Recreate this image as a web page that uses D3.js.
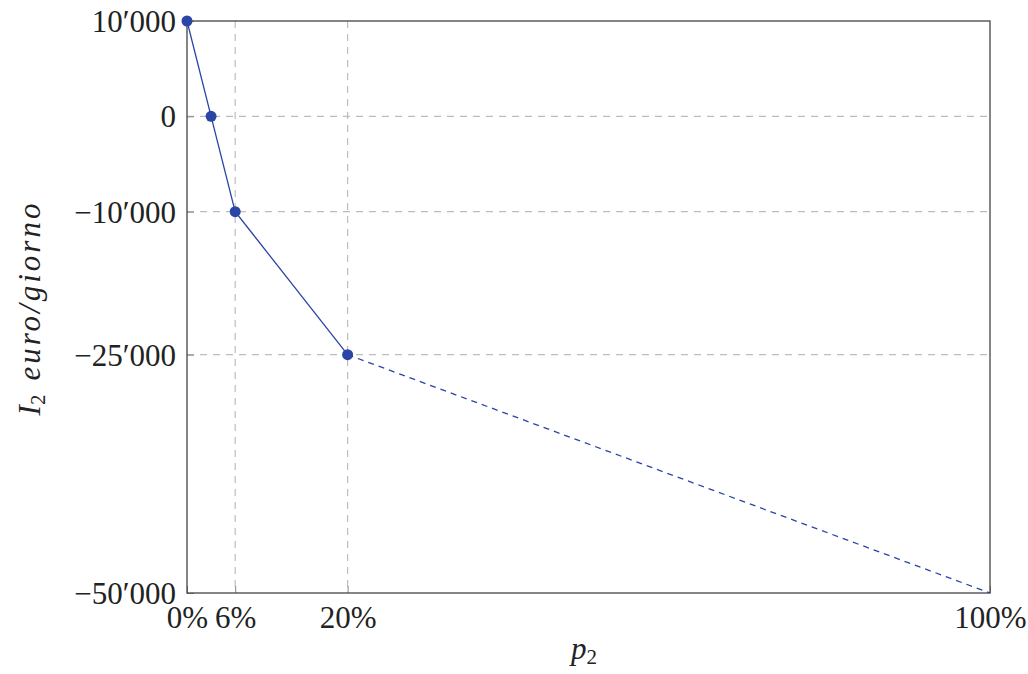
<!DOCTYPE html>
<html><head><meta charset="utf-8">
<script src="https://cdn.jsdelivr.net/npm/d3@7"></script>
<style>body{margin:0;background:#fff}svg{display:block}text{font-family:"Liberation Serif","DejaVu Serif",serif;fill:#222}</style>
</head><body><svg id="c" width="1028" height="674"></svg>
<script>
const xSolid = [0, 3, 6, 20];
const ySolid = [10000, 0, -10000, -25000];
const xDash = [20, 100];
const yDash = [-25000, -50000];
const xTicks = [0, 6, 20, 100];
const xTickLabels = ["0%", "6%", "20%", "100%"];
const yTicks = [10000, 0, -10000, -25000, -50000];
const yTickLabels = ["10\u2032000", "0", "\u221210\u2032000", "\u221225\u2032000", "\u221250\u2032000"];

const svg = d3.select("#c");
const L = 187, R = 990, T = 21, B = 593;
const x = d3.scaleLinear().domain([0, 100]).range([L, R]);
const y = d3.scaleLinear().domain([-50000, 10000]).range([B, T]);
const blue = "#2b45a6";

// grid
svg.append("g").selectAll("line").data(xTicks.filter(d => d > 0 && d < 100)).join("line")
  .attr("x1", d => x(d)).attr("x2", d => x(d)).attr("y1", T).attr("y2", B)
  .attr("stroke", "#bdbdbd").attr("stroke-width", 1.2).attr("stroke-dasharray", "7,6");
svg.append("g").selectAll("line").data(yTicks.filter(d => d > -50000 && d < 10000)).join("line")
  .attr("y1", d => y(d)).attr("y2", d => y(d)).attr("x1", L).attr("x2", R)
  .attr("stroke", "#bdbdbd").attr("stroke-width", 1.2).attr("stroke-dasharray", "7,6");

// axes (ticks inward)
const yAxis = d3.axisLeft(y).tickValues(yTicks).tickFormat((d, i) => yTickLabels[i]).tickSizeInner(-7).tickSizeOuter(0).tickPadding(11);
const gy = svg.append("g").attr("transform", `translate(${L},0)`).call(yAxis);
gy.select(".domain").remove();
gy.selectAll("line").attr("stroke", "#888");
gy.selectAll("text").attr("font-size", 31).attr("fill", "#222").attr("dy", "0.34em");

const xAxis = d3.axisBottom(x).tickValues(xTicks).tickFormat((d, i) => xTickLabels[i]).tickSizeInner(-7).tickSizeOuter(0).tickPadding(13);
const gx = svg.append("g").attr("transform", `translate(0,${B})`).call(xAxis);
gx.select(".domain").remove();
gx.selectAll("line").attr("stroke", "#888");
gx.selectAll("text").attr("font-size", 31).attr("fill", "#222").attr("dy", "0.7em");

// frame
svg.append("rect").attr("x", L).attr("y", T).attr("width", R - L).attr("height", B - T)
  .attr("fill", "none").attr("stroke", "#444").attr("stroke-width", 1.3);

// lines
const line = d3.line().x(d => x(d[0])).y(d => y(d[1]));
svg.append("path").datum(xSolid.map((v, i) => [v, ySolid[i]])).attr("d", line)
  .attr("fill", "none").attr("stroke", blue).attr("stroke-width", 1.3);
svg.append("path").datum(xDash.map((v, i) => [v, yDash[i]])).attr("d", line)
  .attr("fill", "none").attr("stroke", blue).attr("stroke-width", 1.3).attr("stroke-dasharray", "6,5");
svg.append("g").selectAll("circle").data(xSolid.map((v, i) => [v, ySolid[i]])).join("circle")
  .attr("cx", d => x(d[0])).attr("cy", d => y(d[1])).attr("r", 5.5).attr("fill", blue);

// axis labels
const xl = svg.append("text").attr("x", 584).attr("y", 659).attr("text-anchor", "middle")
  .attr("font-size", 31).attr("font-style", "italic");
xl.append("tspan").text("p");
xl.append("tspan").attr("font-size", 21).attr("font-style", "normal").attr("dy", 5).text("2");

const yl = svg.append("text").attr("transform", `translate(40,308) rotate(-90)`)
  .attr("text-anchor", "middle").attr("font-size", 31).attr("font-style", "italic");
yl.append("tspan").text("I");
yl.append("tspan").attr("font-size", 21).attr("font-style", "normal").attr("dy", 5).text("2");
yl.append("tspan").attr("dy", -5).attr("dx", 14).attr("letter-spacing", 3).text("euro/giorno");
</script></body></html>
